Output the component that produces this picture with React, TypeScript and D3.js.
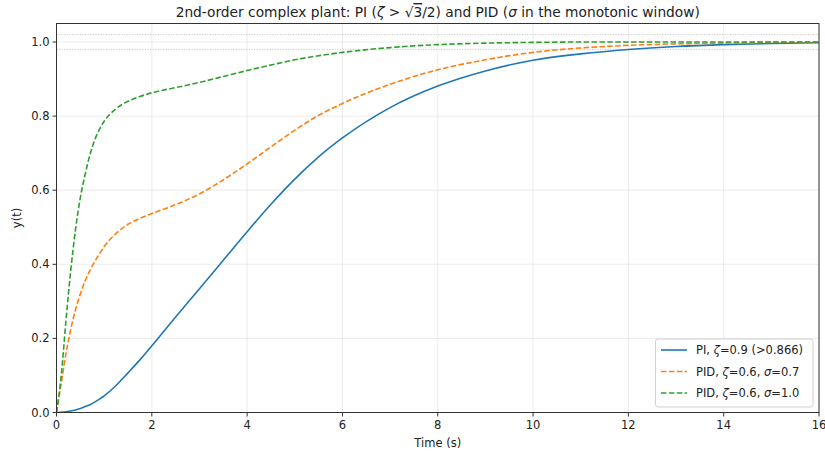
import React from "react";
import * as d3 from "d3";

const timeS = [0, 0.1, 0.2, 0.3, 0.4, 0.5, 0.6, 0.7, 0.8, 0.9, 1, 1.25, 1.5, 1.75, 2, 2.5, 3, 3.5, 4, 4.5, 5, 5.5, 6, 7, 8, 9, 10, 11, 12, 13, 14, 15, 16];
const piZeta09 = [0, 0.0005, 0.002, 0.004, 0.007, 0.011, 0.016, 0.021, 0.028, 0.036, 0.045, 0.073, 0.107, 0.142, 0.18, 0.258, 0.334, 0.411, 0.488, 0.562, 0.63, 0.69, 0.741, 0.823, 0.881, 0.922, 0.951, 0.968, 0.98, 0.988, 0.993, 0.996, 0.998];
const pidSigma07 = [0, 0.08, 0.16, 0.225, 0.278, 0.32, 0.355, 0.383, 0.407, 0.428, 0.448, 0.483, 0.508, 0.524, 0.537, 0.561, 0.59, 0.628, 0.671, 0.717, 0.762, 0.802, 0.834, 0.886, 0.925, 0.952, 0.972, 0.984, 0.991, 0.995, 0.997, 0.999, 1.0];
const pidSigma10 = [0, 0.1, 0.25, 0.385, 0.495, 0.58, 0.642, 0.695, 0.735, 0.764, 0.786, 0.82, 0.84, 0.853, 0.863, 0.877, 0.891, 0.907, 0.923, 0.938, 0.952, 0.963, 0.972, 0.985, 0.993, 0.997, 0.999, 1.0, 1.0, 1.0, 1.0, 1.0, 1.0];
const xTicks = [0, 2, 4, 6, 8, 10, 12, 14, 16];
const yTicks = [0, 0.2, 0.4, 0.6, 0.8, 1.0];
const bandLines = [0.98, 1.02];

const W = 825, H = 455;
const L = 56.5, R = 819, T = 23.5, B = 412.5;
const FONT = "DejaVu Sans";
const FS = 11.5;

export default function App() {
  const x = d3.scaleLinear().domain([0, 16]).range([L, R]);
  const y = d3.scaleLinear().domain([0, 1.05]).range([B, T]);
  const line = (vals: number[]) =>
    d3.line<number>().x((_, i) => x(timeS[i])).y((v) => y(v)).curve(d3.curveMonotoneX)(vals) || "";

  const series = [
    { vals: piZeta09, color: "#1f77b4", dash: undefined as string | undefined },
    { vals: pidSigma07, color: "#ff7f0e", dash: "5.5,2.4" },
    { vals: pidSigma10, color: "#2ca02c", dash: "5.5,2.4" },
  ];

  const legendRows = [350, 371.5, 393];

  return (
    <div style={{ position: "fixed", left: 0, top: 0 }}>
      <svg width={W} height={H} style={{ display: "block", background: "#fff" }} fontFamily={FONT}>
        <defs>
          <clipPath id="plotclip">
            <rect x={L} y={T} width={R - L} height={B - T} />
          </clipPath>
        </defs>
        <rect x={0} y={0} width={W} height={H} fill="#fff" />
        {xTicks.map((t) => (
          <line key={"gx" + t} x1={x(t)} x2={x(t)} y1={T} y2={B} stroke="#b0b0b0" strokeOpacity={0.3} strokeWidth={0.8} />
        ))}
        {yTicks.map((t) => (
          <line key={"gy" + t} x1={L} x2={R} y1={y(t)} y2={y(t)} stroke="#b0b0b0" strokeOpacity={0.3} strokeWidth={0.8} />
        ))}
        {bandLines.map((b) => (
          <line key={"b" + b} x1={L} x2={R} y1={y(b)} y2={y(b)} stroke="#999" strokeWidth={0.8} strokeDasharray="1,1.6" strokeOpacity={0.8} />
        ))}
        <g clipPath="url(#plotclip)">
          {series.map((s, i) => (
            <path key={i} d={line(s.vals)} fill="none" stroke={s.color} strokeWidth={1.6} strokeDasharray={s.dash} />
          ))}
        </g>
        <rect x={L} y={T} width={R - L} height={B - T} fill="none" stroke="#333" strokeWidth={1} />
        {xTicks.map((t) => (
          <g key={"xt" + t}>
            <line x1={x(t)} x2={x(t)} y1={B} y2={B + 4} stroke="#333" strokeWidth={1} />
            <text x={x(t)} y={B + 16} textAnchor="middle" fontSize={FS} fill="#222">{t}</text>
          </g>
        ))}
        {yTicks.map((t) => (
          <g key={"yt" + t}>
            <line x1={L - 4} x2={L} y1={y(t)} y2={y(t)} stroke="#333" strokeWidth={1} />
            <text x={L - 7} y={y(t) + 4} textAnchor="end" fontSize={FS} fill="#222">{t.toFixed(1)}</text>
          </g>
        ))}
        <text x={(L + R) / 2} y={447} textAnchor="middle" fontSize={FS} fill="#222">Time (s)</text>
        <text transform={`translate(21, ${(T + B) / 2}) rotate(-90)`} textAnchor="middle" fontSize={FS} fill="#222">y(t)</text>
        <text x={(L + R) / 2} y={17} textAnchor="middle" fontSize={13.75} fill="#222">
          2nd-order complex plant: PI (<tspan fontStyle="italic">ζ</tspan> &gt; √<tspan textDecoration="overline" style={{ textDecoration: "overline" }}>3</tspan>/2) and PID (<tspan fontStyle="italic">σ</tspan> in the monotonic window)
        </text>
        <rect x={655.5} y={339} width={157.5} height={68} rx={2.5} fill="#fff" fillOpacity={0.8} stroke="#d0d0d0" strokeWidth={1} />
        {series.map((s, i) => (
          <line key={"ll" + i} x1={661} x2={687} y1={legendRows[i]} y2={legendRows[i]} stroke={s.color} strokeWidth={1.6} strokeDasharray={s.dash} />
        ))}
        <text x={696} y={legendRows[0] + 4} fontSize={FS} fill="#222">PI, <tspan fontStyle="italic">ζ</tspan>=0.9 (&gt;0.866)</text>
        <text x={696} y={legendRows[1] + 4} fontSize={FS} fill="#222">PID, <tspan fontStyle="italic">ζ</tspan>=0.6, <tspan fontStyle="italic">σ</tspan>=0.7</text>
        <text x={696} y={legendRows[2] + 4} fontSize={FS} fill="#222">PID, <tspan fontStyle="italic">ζ</tspan>=0.6, <tspan fontStyle="italic">σ</tspan>=1.0</text>
      </svg>
    </div>
  );
}
